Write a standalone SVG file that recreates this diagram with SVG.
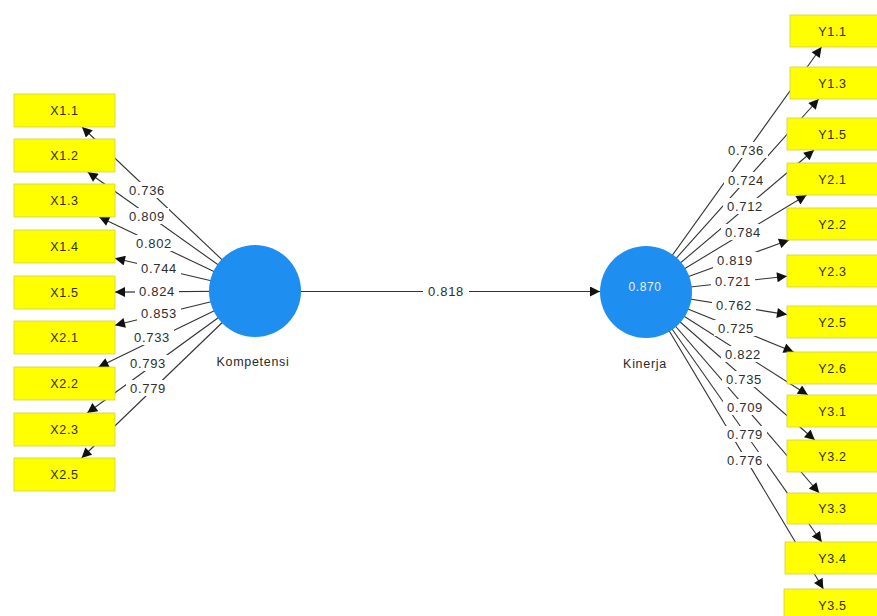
<svg xmlns="http://www.w3.org/2000/svg" width="877" height="616" viewBox="0 0 877 616">
  <style>
    .ind rect { fill: #ffff00; stroke: #d2cf45; stroke-width: 0.8; }
    .ind text { font-family: "Liberation Sans", Arial, sans-serif; font-size: 12.5px; fill: #2f2f14; text-anchor: middle; letter-spacing: 0.7px; }
    .lat circle { fill: #1f8ef1; }
    .cap { font-family: "Liberation Sans", Arial, sans-serif; font-size: 12.5px; fill: #2a2a2a; text-anchor: middle; letter-spacing: 0.7px; }
    .inner { font-family: "Liberation Sans", Arial, sans-serif; font-size: 12px; fill: #e6f2ff; text-anchor: middle; letter-spacing: 0.6px; }
    .edge { stroke: #333; stroke-width: 1.1; fill: none; marker-end: url(#arrow); }
    .lbl rect { fill: #ffffff; }
    .lbl text { font-family: "Liberation Sans", Arial, sans-serif; font-size: 13px; fill: #2e2e2e; text-anchor: middle; letter-spacing: 0.7px; }
  </style>
  <defs>
    <marker id="arrow" viewBox="0 0 10 10" refX="10" refY="5" markerWidth="11" markerHeight="10" markerUnits="userSpaceOnUse" orient="auto">
      <path d="M0,0 L10,5 L0,10 z" fill="#111"/>
    </marker>
  </defs>
  <rect width="877" height="616" fill="#ffffff"/>

  <g id="connectors">
    <!-- Kompetensi -> indicators -->
    <line class="edge" x1="255" y1="291" x2="82" y2="127"/>
    <line class="edge" x1="255" y1="291" x2="87.7" y2="172"/>
    <line class="edge" x1="255" y1="291" x2="99.2" y2="217"/>
    <line class="edge" x1="255" y1="291" x2="115" y2="258.3"/>
    <line class="edge" x1="255" y1="291" x2="115" y2="292.1"/>
    <line class="edge" x1="255" y1="291" x2="115" y2="325.2"/>
    <line class="edge" x1="255" y1="291" x2="98.5" y2="367"/>
    <line class="edge" x1="255" y1="291" x2="87.2" y2="413"/>
    <line class="edge" x1="255" y1="291" x2="81.6" y2="458"/>
    <!-- Kinerja -> indicators -->
    <line class="edge" x1="646" y1="292" x2="821.5" y2="47"/>
    <line class="edge" x1="646" y1="292" x2="818.7" y2="99"/>
    <line class="edge" x1="646" y1="292" x2="814" y2="150"/>
    <line class="edge" x1="646" y1="292" x2="806.5" y2="195"/>
    <line class="edge" x1="646" y1="292" x2="789" y2="240"/>
    <line class="edge" x1="646" y1="292" x2="787" y2="276.2"/>
    <line class="edge" x1="646" y1="292" x2="787" y2="314.6"/>
    <line class="edge" x1="646" y1="292" x2="793.6" y2="352"/>
    <line class="edge" x1="646" y1="292" x2="807.9" y2="395"/>
    <line class="edge" x1="646" y1="292" x2="814.8" y2="440"/>
    <line class="edge" x1="646" y1="292" x2="819.2" y2="493"/>
    <line class="edge" x1="646" y1="292" x2="821.7" y2="542"/>
    <line class="edge" x1="646" y1="292" x2="823.4" y2="589"/>
    <!-- structural path -->
    <line class="edge" x1="300" y1="291.5" x2="600" y2="291.5"/>

    <g class="lbl">
      <rect x="125" y="182" width="44" height="16"/><text x="147" y="194.5">0.736</text>
      <rect x="125" y="208" width="44" height="16"/><text x="147" y="220.5">0.809</text>
      <rect x="132" y="235" width="44" height="16"/><text x="154" y="247.5">0.802</text>
      <rect x="137" y="260" width="44" height="16"/><text x="159" y="272.5">0.744</text>
      <rect x="135" y="283" width="44" height="16"/><text x="157" y="295.5">0.824</text>
      <rect x="137" y="305" width="44" height="16"/><text x="159" y="317.5">0.853</text>
      <rect x="130" y="329" width="44" height="16"/><text x="152" y="341.5">0.733</text>
      <rect x="126" y="355" width="44" height="16"/><text x="148" y="367.5">0.793</text>
      <rect x="126" y="380" width="44" height="16"/><text x="148" y="392.5">0.779</text>

      <rect x="724" y="142" width="44" height="16"/><text x="746" y="154.5">0.736</text>
      <rect x="724" y="172" width="44" height="16"/><text x="746" y="184.5">0.724</text>
      <rect x="723" y="198" width="44" height="16"/><text x="745" y="210.5">0.712</text>
      <rect x="721" y="224" width="44" height="16"/><text x="743" y="236.5">0.784</text>
      <rect x="713" y="252" width="44" height="16"/><text x="735" y="264.5">0.819</text>
      <rect x="711" y="273" width="44" height="16"/><text x="733" y="285.5">0.721</text>
      <rect x="712" y="297" width="44" height="16"/><text x="734" y="309.5">0.762</text>
      <rect x="714" y="320" width="44" height="16"/><text x="736" y="332.5">0.725</text>
      <rect x="721" y="346" width="44" height="16"/><text x="743" y="358.5">0.822</text>
      <rect x="722" y="371" width="44" height="16"/><text x="744" y="383.5">0.735</text>
      <rect x="723" y="399" width="44" height="16"/><text x="745" y="411.5">0.709</text>
      <rect x="723" y="426" width="44" height="16"/><text x="745" y="438.5">0.779</text>
      <rect x="723" y="452" width="44" height="16"/><text x="745" y="464.5">0.776</text>

      <rect x="423" y="283" width="46" height="17"/><text x="446" y="296">0.818</text>
    </g>
  </g>

  <!-- latent variables -->
  <g id="kompetensi" class="lat">
    <circle cx="255" cy="291" r="46"/>
    <text class="cap" x="253" y="366">Kompetensi</text>
  </g>
  <g id="kinerja" class="lat">
    <circle cx="646" cy="292" r="46"/>
    <text class="inner" x="645" y="291">0.870</text>
    <text class="cap" x="645" y="368">Kinerja</text>
  </g>

  <!-- Kompetensi indicators -->
  <g id="x1-1" class="ind"><rect x="14" y="94" width="101" height="33"/><text x="64.5" y="115">X1.1</text></g>
  <g id="x1-2" class="ind"><rect x="14" y="139" width="101" height="33"/><text x="64.5" y="160">X1.2</text></g>
  <g id="x1-3" class="ind"><rect x="14" y="184" width="101" height="33"/><text x="64.5" y="205">X1.3</text></g>
  <g id="x1-4" class="ind"><rect x="14" y="230" width="101" height="33"/><text x="64.5" y="251">X1.4</text></g>
  <g id="x1-5" class="ind"><rect x="14" y="276" width="101" height="33"/><text x="64.5" y="297">X1.5</text></g>
  <g id="x2-1" class="ind"><rect x="14" y="321" width="101" height="33"/><text x="64.5" y="342">X2.1</text></g>
  <g id="x2-2" class="ind"><rect x="14" y="367" width="101" height="33"/><text x="64.5" y="388">X2.2</text></g>
  <g id="x2-3" class="ind"><rect x="14" y="413" width="101" height="33"/><text x="64.5" y="434">X2.3</text></g>
  <g id="x2-5" class="ind"><rect x="14" y="458" width="101" height="33"/><text x="64.5" y="479">X2.5</text></g>

  <!-- Kinerja indicators -->
  <g id="y1-1" class="ind"><rect x="790" y="15" width="92" height="32"/><text x="832.5" y="35.5">Y1.1</text></g>
  <g id="y1-3" class="ind"><rect x="790" y="67" width="92" height="32"/><text x="832.5" y="87.5">Y1.3</text></g>
  <g id="y1-5" class="ind"><rect x="787" y="118" width="95" height="32"/><text x="832.5" y="138.5">Y1.5</text></g>
  <g id="y2-1" class="ind"><rect x="787" y="163" width="95" height="32"/><text x="832.5" y="183.5">Y2.1</text></g>
  <g id="y2-2" class="ind"><rect x="787" y="208" width="95" height="32"/><text x="832.5" y="228.5">Y2.2</text></g>
  <g id="y2-3" class="ind"><rect x="787" y="255" width="95" height="32"/><text x="832.5" y="275.5">Y2.3</text></g>
  <g id="y2-5" class="ind"><rect x="787" y="306" width="95" height="32"/><text x="832.5" y="326.5">Y2.5</text></g>
  <g id="y2-6" class="ind"><rect x="787" y="352" width="95" height="32"/><text x="832.5" y="372.5">Y2.6</text></g>
  <g id="y3-1" class="ind"><rect x="787" y="395" width="95" height="32"/><text x="832.5" y="415.5">Y3.1</text></g>
  <g id="y3-2" class="ind"><rect x="787" y="440" width="95" height="32"/><text x="832.5" y="460.5">Y3.2</text></g>
  <g id="y3-3" class="ind"><rect x="787" y="493" width="95" height="31"/><text x="832.5" y="513">Y3.3</text></g>
  <g id="y3-4" class="ind"><rect x="785" y="542" width="97" height="32"/><text x="832.5" y="562.5">Y3.4</text></g>
  <g id="y3-5" class="ind"><rect x="784" y="589" width="98" height="32"/><text x="832.5" y="609.5">Y3.5</text></g>
</svg>
